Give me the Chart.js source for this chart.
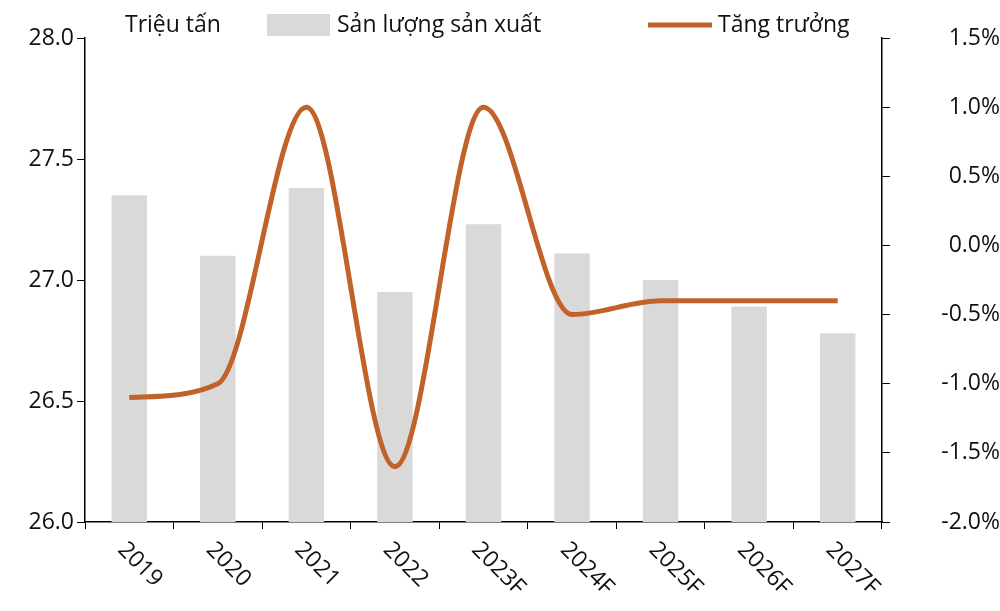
<!DOCTYPE html>
<html><head><meta charset="utf-8">
<script src="https://cdn.jsdelivr.net/npm/chart.js"></script>
<style>body{margin:0;background:#fff}#w{width:1000px;height:611px}</style>
</head><body><div id="w"><canvas id="c"></canvas></div>
<script>
const categories=['2019','2020','2021','2022','2023F','2024F','2025F','2026F','2027F'];
const production=[27.35,27.10,27.38,26.95,27.23,27.11,27.00,26.89,26.78];
const growth=[-1.1,-1.0,1.0,-1.6,1.0,-0.5,-0.4,-0.4,-0.4];
const leftTicks=[26.0,26.5,27.0,27.5,28.0];
const F='"Open Sans", sans-serif';
const deco={id:'deco',afterDraw(ch){
  const c=ch.ctx,x=ch.scales.x,a=ch.chartArea;
  c.save();c.fillStyle='#111';c.font='23px '+F;
  categories.forEach((t,i)=>{const px=x.getPixelForValue(i);
    c.save();c.translate(px-8,a.bottom+24);c.rotate(Math.PI/4);c.textAlign='left';c.textBaseline='middle';c.fillText(t,0,0);c.restore();});
  c.textBaseline='middle';c.textAlign='left';
  c.fillText('Triệu tấn',125,25);
  c.fillStyle='#d9d9d9';c.fillRect(267,14,63,22);
  c.fillStyle='#111';c.fillText('Sản lượng sản xuất',337,25);
  c.strokeStyle='#c0622a';c.lineWidth=5;c.beginPath();c.moveTo(648,25);c.lineTo(712,25);c.stroke();
  c.fillText('Tăng trưởng',718,25);
  c.restore();}};
new Chart(document.getElementById('c'),{
 data:{labels:categories,datasets:[
  {type:'line',data:growth,yAxisID:'y1',borderColor:'#c0622a',borderWidth:5,pointRadius:0,cubicInterpolationMode:'monotone'},
  {type:'bar',data:production,yAxisID:'y',backgroundColor:'#d9d9d9',barPercentage:0.4,categoryPercentage:1}]},
 options:{responsive:true,maintainAspectRatio:false,animation:false,
  layout:{padding:{top:38,bottom:0,left:0,right:0}},
  plugins:{legend:{display:false},tooltip:{enabled:false}},
  scales:{
   x:{offset:true,grid:{offset:true,drawOnChartArea:false,drawTicks:true,tickLength:7,color:'#000'},border:{color:'#000',width:1.5},ticks:{display:true,color:'rgba(0,0,0,0)',font:{size:22,family:F},maxRotation:45,minRotation:45,padding:0},afterFit(s){s.height=89}},
   y:{position:'left',min:26,max:28,afterBuildTicks(s){s.ticks=leftTicks.map(v=>({value:v}))},
      grid:{drawOnChartArea:false,tickLength:8,color:'#000'},border:{color:'#000',width:1.5},
      ticks:{color:'#111',font:{size:23,family:F},callback:v=>v.toFixed(1)},afterFit(s){s.width=85}},
   y1:{position:'right',min:-2,max:1.5,ticks:{stepSize:0.5,color:'#111',crossAlign:'far',font:{size:23,family:F},callback:v=>v.toFixed(1)+'%'},
      grid:{drawOnChartArea:false,tickLength:8,color:'#000'},border:{color:'#000',width:1.5},afterFit(s){s.width=118}}
  }},
 plugins:[deco]});
</script></body></html>
